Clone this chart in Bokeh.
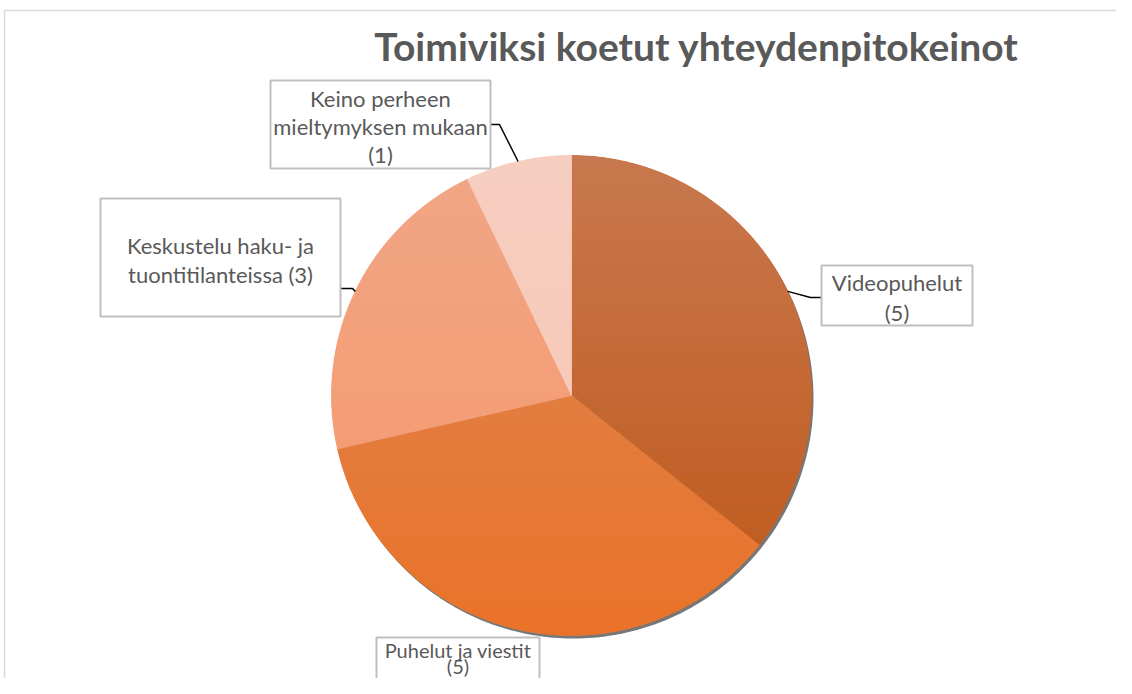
import numpy as np
from bokeh.plotting import figure
from bokeh.models import Range1d
from bokeh.core.properties import value
from bokeh.embed import file_html
from bokeh.resources import INLINE

# ---------------- data ----------------
title = "Toimiviksi koetut yhteydenpitokeinot"
categories = ["Videopuhelut", "Puhelut ja viestit",
              "Keskustelu haku- ja tuontitilanteissa",
              "Keino perheen mieltymyksen mukaan"]
counts = [5, 5, 3, 1]
label_lines = [["Videopuhelut", "(5)"],
               ["Puhelut ja viestit", "(5)"],
               ["Keskustelu haku- ja", "tuontitilanteissa (3)"],
               ["Keino perheen", "mieltymyksen mukaan", "(1)"]]
top_colors = ["#C8784F", "#DB8858", "#F1A686", "#F6CEC0"]
bottom_colors = ["#BF5717", "#EA7228", "#F6976A", "#F8C5B1"]

# ---------------- layout (picture pixel coordinates) ----------------
W, H = 1116, 678
CX, CY, R = 571, 395, 240
label_layout = [
    dict(box=(821, 265, 972, 325), ys=[282, 312], elbow=[(810, 297), (821, 297)], size="22px"),
    dict(box=(376, 637, 539, 700), ys=[649, 665], elbow=None, size="20px"),
    dict(box=(100, 198, 340, 316), ys=[245, 274], elbow=[(352, 288), (340, 288)], size="22px"),
    dict(box=(270, 80, 490, 168), ys=[98, 126, 154], elbow=[(499, 124), (490, 124)], size="22px"),
]

FONT = "Lato"
TEXT_COLOR = "#595959"


def hex2rgb(h):
    h = h.lstrip("#")
    return np.array([int(h[i:i + 2], 16) for i in (0, 2, 4)], dtype=float)


def rgb2hex(c):
    c = np.clip(np.round(c), 0, 255).astype(int)
    return "#%02x%02x%02x" % tuple(c)


def pt(theta, r=R):
    return (CX + r * np.sin(theta), CY - r * np.cos(theta))


def wedge_poly(a0, a1, n=120):
    angs = np.linspace(a0, a1, n)
    return [(CX, CY)] + [pt(a) for a in angs]


def clip_half(pts, y, keep_ge):
    out = []
    n = len(pts)
    for i in range(n):
        cur, prev = pts[i], pts[i - 1]
        cin = cur[1] >= y if keep_ge else cur[1] <= y
        pin = prev[1] >= y if keep_ge else prev[1] <= y
        if cin:
            if not pin:
                t = (y - prev[1]) / (cur[1] - prev[1])
                out.append((prev[0] + t * (cur[0] - prev[0]), y))
            out.append(cur)
        elif pin:
            t = (y - prev[1]) / (cur[1] - prev[1])
            out.append((prev[0] + t * (cur[0] - prev[0]), y))
    return out


p = figure(width=W, height=H, output_backend="svg", toolbar_location=None,
           x_range=Range1d(0, W), y_range=Range1d(H, 0),
           min_border=0, background_fill_color="white",
           border_fill_color="white")
p.axis.visible = False
p.grid.visible = False
p.outline_line_color = None

# chart area border (top and left visible in the reference)
p.line([4, W + 5], [10, 10], line_color="#D9D9D9", line_width=1.5)
p.line([4, 4], [10, H + 5], line_color="#D9D9D9", line_width=1.5)

# shadow
angs = np.linspace(0, 2 * np.pi, 360)
p.patch([CX + 2 + R * np.sin(a) for a in angs], [CY + 3 - R * np.cos(a) for a in angs],
        fill_color="#5E5E5E", fill_alpha=0.85, line_color=None)

total = sum(counts)
bounds = np.concatenate([[0], np.cumsum(counts)]) / total * 2 * np.pi
band_edges = np.arange(CY - R, CY + R + 4, 4.0)

for i, cat in enumerate(categories):
    a0, a1 = bounds[i], bounds[i + 1]
    poly = wedge_poly(a0, a1)
    c_top, c_bot = hex2rgb(top_colors[i]), hex2rgb(bottom_colors[i])
    mid = rgb2hex((c_top + c_bot) / 2)
    p.patch([q[0] for q in poly], [q[1] for q in poly], fill_color=mid, line_color=mid, line_width=0.6)
    xs, ys, cols = [], [], []
    for y0, y1 in zip(band_edges[:-1], band_edges[1:]):
        sub = clip_half(poly, y0 - 0.4, True)
        if len(sub) < 3:
            continue
        sub = clip_half(sub, y1 + 0.4, False)
        if len(sub) < 3:
            continue
        t = ((y0 + y1) / 2 - (CY - R)) / (2 * R)
        cols.append(rgb2hex(c_top + (c_bot - c_top) * t))
        xs.append([q[0] for q in sub])
        ys.append([q[1] for q in sub])
    p.patches(xs, ys, fill_color=cols, line_color=None)

# labels
for i, cat in enumerate(categories):
    lay = label_layout[i]
    am = (bounds[i] + bounds[i + 1]) / 2
    if lay["elbow"] is not None:
        sx, sy = pt(am)
        lx = [sx] + [e[0] for e in lay["elbow"]]
        ly = [sy] + [e[1] for e in lay["elbow"]]
        p.line(lx, ly, line_color="black", line_width=1.5)
    x0, y0, x1, y1 = lay["box"]
    p.quad(left=x0, right=x1, top=y0, bottom=y1, fill_color="white",
           line_color="#BFBFBF", line_width=2)
    xc = (x0 + x1) / 2
    p.text(x=[xc] * len(label_lines[i]), y=lay["ys"], text=label_lines[i],
           text_font=value(FONT), text_font_size=lay["size"], text_color=TEXT_COLOR,
           text_align="center", text_baseline="middle")

p.text(x=[696], y=[45], text=[title], text_font=value(FONT), text_font_size="39px",
       text_font_style="bold", text_color=TEXT_COLOR, text_align="center",
       text_baseline="middle")

open("out.html", "w").write(file_html(p, INLINE))
